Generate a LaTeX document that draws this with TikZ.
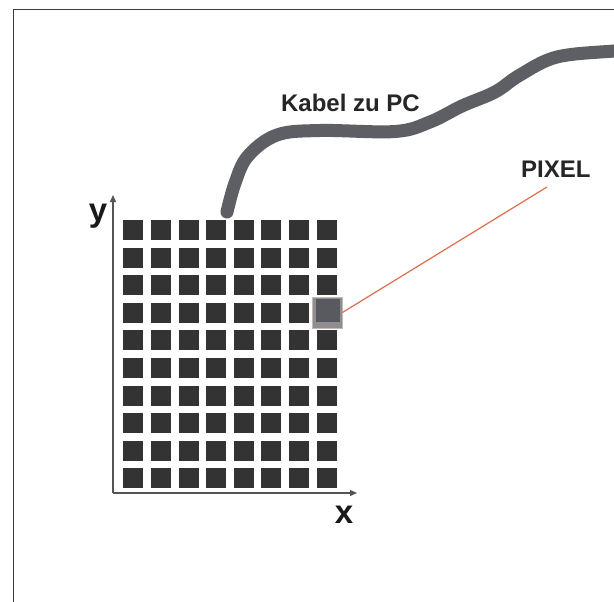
\documentclass[tikz,border=0pt]{standalone}
\usepackage{fontspec}
\setmainfont{Liberation Sans}
\usetikzlibrary{arrows.meta,calc}
\definecolor{cellc}{HTML}{333333}
\definecolor{cablec}{HTML}{5E5F64}
\definecolor{framec}{HTML}{3C3C3C}
\definecolor{axisc}{HTML}{555555}
\definecolor{linec}{HTML}{DE6E4E}
\definecolor{pixout}{HTML}{8E8E90}
\definecolor{pixin}{HTML}{585A60}
\definecolor{pixedge}{HTML}{C8B8B4}
\tikzset{
  cell/.style={fill=cellc, draw=none, minimum width=20pt, minimum height=20pt, inner sep=0pt, outer sep=0pt},
  cable/.style={draw=cablec, line width=13pt, line cap=round, line join=round},
  axis/.style={draw=axisc, line width=1.4pt, -{Triangle[length=7pt,width=6pt]}},
  lbl/.style={font=\bfseries\fontsize{24}{28}\selectfont, text=black!85, inner sep=0pt},
  axlbl/.style={font=\bfseries\fontsize{33}{36}\selectfont, text=black!90, inner sep=0pt},
  leader/.style={draw=linec, line width=1.2pt},
}
\begin{document}
\begin{tikzpicture}[x=1pt,y=-1pt]
\useasboundingbox (0,0) rectangle (614,602);
\fill[white] (0,0) rectangle (614,602);
% frame
\draw[framec, line width=1.3pt] (13.5,602) -- (13.5,9.3) -- (614,9.3);
% grid of pixels
\foreach \i in {0,...,7}{
  \foreach \j in {0,...,9}{
    \node[cell] (c-\i-\j) at ({133.3+27.6*\i},{230+27.6*\j}) {};
  }
}
% highlighted pixel
\node[fill=pixout, draw=pixedge, line width=0.8pt, minimum width=30pt, minimum height=31pt, inner sep=0pt] (pix) at (327,312.5) {};
\node[fill=pixin, minimum width=24pt, minimum height=23pt, inner sep=0pt] (pixin) at (328,310.5) {};
% axes
\coordinate (origin) at (113,493);
\coordinate (ytip) at (113,195);
\coordinate (xtip) at (357,493);
\draw[axis] (origin) -- (ytip);
\draw[axis] (origin) -- (xtip);
\node[axlbl, anchor=base] (ylab) at (98,221) {y};
\node[axlbl, anchor=base] (xlab) at (344,523) {x};
% cable
\coordinate (cabstart) at (227,212);
\draw[cable] plot[smooth, tension=0.6] coordinates {(227,212) (235,183) (248,156) (277,135) (320,130.5) (395,131.5) (430,122) (462,106) (495,92) (520,75) (557,57) (614,51) (630,50)};
\node[lbl, anchor=base] (kabel) at (350.5,111.7) {Kabel zu PC};
% pixel label
\node[lbl, anchor=base] (pixlabel) at (555.8,177.3) {PIXEL};
\coordinate (lblend) at (547,187);
\draw[leader] (pix.east) -- (lblend);
\end{tikzpicture}
\end{document}
